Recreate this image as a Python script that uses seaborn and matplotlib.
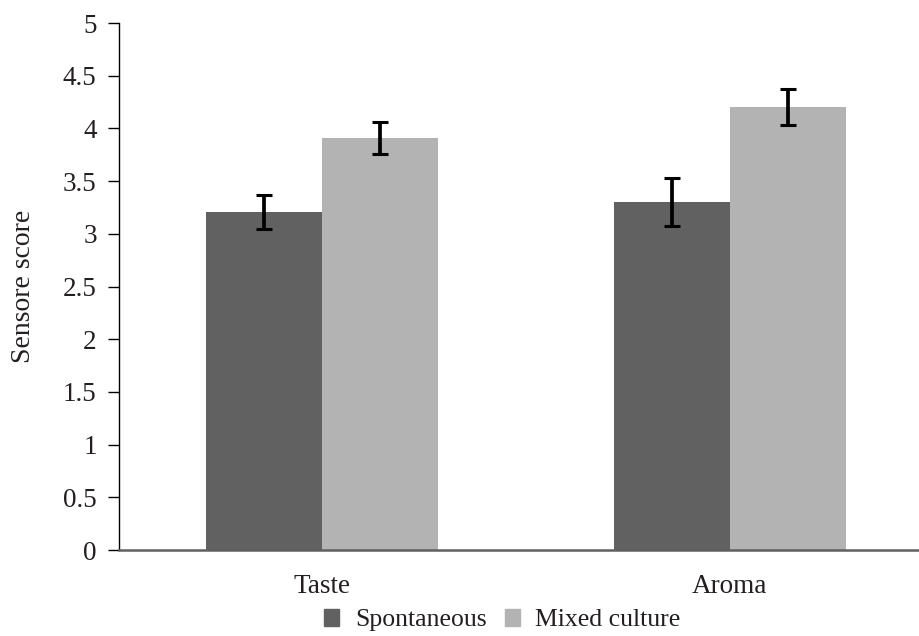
import matplotlib
matplotlib.use("Agg")
import matplotlib.pyplot as plt
import seaborn as sns
import pandas as pd

categories = ["Taste", "Aroma"]
groups = ["Spontaneous", "Mixed culture"]
spontaneous = [3.21, 3.30]
mixed = [3.91, 4.20]
spontaneous_err = [0.16, 0.23]
mixed_err = [0.15, 0.17]
yticks = [0, 0.5, 1, 1.5, 2, 2.5, 3, 3.5, 4, 4.5, 5]
ytick_labels = ["0", "0.5", "1", "1.5", "2", "2.5", "3", "3.5", "4", "4.5", "5"]

df = pd.DataFrame({
    "attribute": categories * 2,
    "group": [groups[0]] * 2 + [groups[1]] * 2,
    "score": spontaneous + mixed,
})
errs = {groups[0]: spontaneous_err, groups[1]: mixed_err}

sns.set_style("white")
plt.rcParams["font.family"] = ["Liberation Serif", "DejaVu Serif"]
txt = "#231f20"

fig = plt.figure(figsize=(9.2, 6.36), dpi=100)
ax = fig.add_axes([0.1293, 0.1352, 0.8707, 0.8286])

sns.barplot(data=df, x="attribute", y="score", hue="group", order=categories,
            hue_order=groups, palette=["#616161", "#b3b3b3"], width=0.57,
            errorbar=None, linewidth=0, legend=False, ax=ax, zorder=2)

# error bars from the bar containers (one container per hue level)
for cont, g in zip(ax.containers, groups):
    xs = [b.get_x() + b.get_width() / 2 for b in cont]
    hs = [b.get_height() for b in cont]
    ax.errorbar(xs, hs, yerr=errs[g], fmt="none", ecolor="black",
                elinewidth=2.7, capsize=5.5, capthick=2.2, zorder=3)

ax.set_xlim(-0.4975, 1.466)
ax.set_ylim(0, 5)
ax.set_yticks(yticks)
ax.set_yticklabels(ytick_labels)
ax.set_xlabel("")
ax.set_ylabel("Sensore score", fontsize=20, color=txt)
ax.yaxis.set_label_coords(-0.103, 0.5)

ax.tick_params(axis="y", length=8, width=1, color="black", direction="out",
               pad=8, labelsize=19.5, labelcolor=txt, left=True)
ax.tick_params(axis="x", length=0, pad=17, labelsize=19.5, labelcolor=txt)

for s in ["top", "right"]:
    ax.spines[s].set_visible(False)
ax.spines["left"].set_color("black")
ax.spines["left"].set_linewidth(1)
ax.spines["bottom"].set_color("#606060")
ax.spines["bottom"].set_linewidth(1.8)

handles = [plt.Rectangle((0, 0), 1, 1, color=c) for c in ["#616161", "#b3b3b3"]]
fig.legend(handles, groups, loc="lower center", bbox_to_anchor=(0.546, -0.013),
           ncol=2, frameon=False, fontsize=18.5, handlelength=0.6,
           handleheight=0.6, handletextpad=0.6, columnspacing=0.7,
           borderpad=0, labelcolor=txt)

fig.savefig("out.png", dpi=100)
